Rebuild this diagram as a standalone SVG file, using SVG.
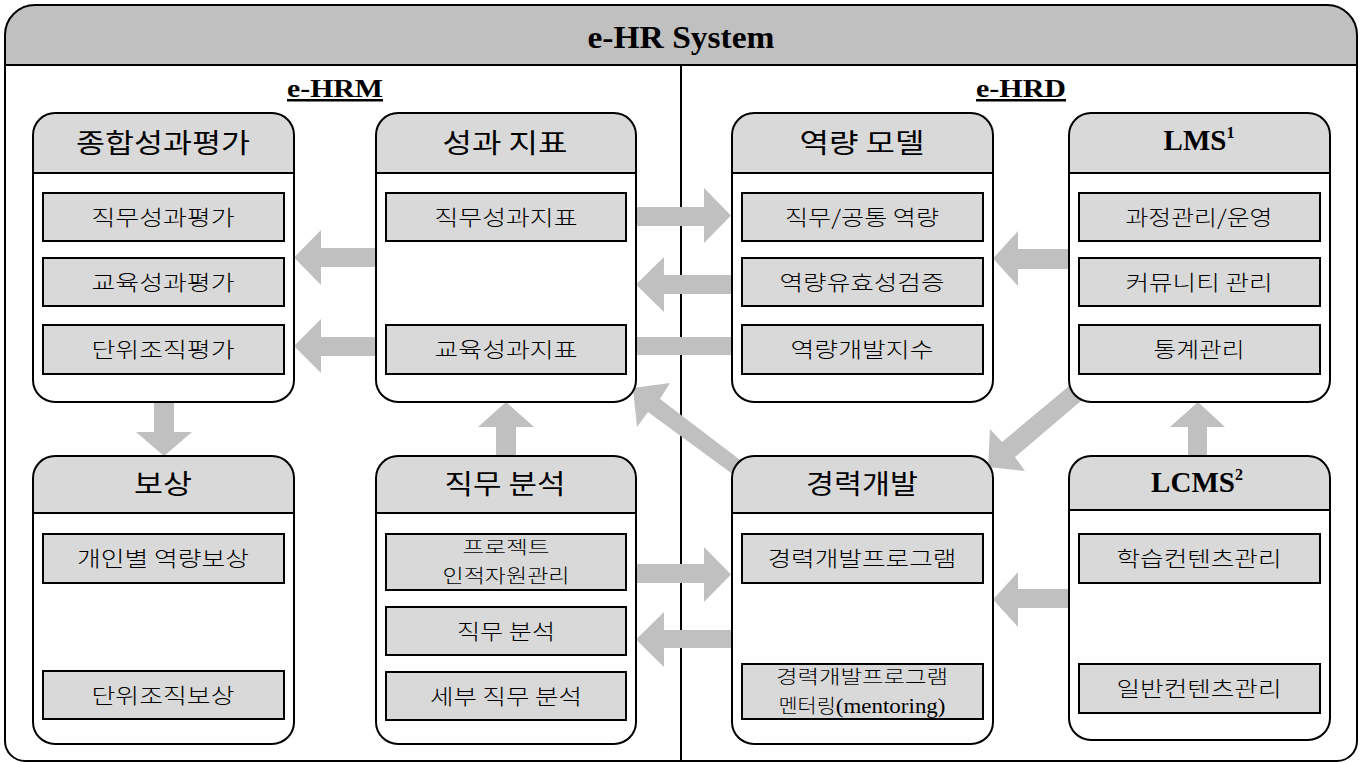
<svg xmlns="http://www.w3.org/2000/svg" width="1365" height="762" viewBox="0 0 1365 762">
<style>
.hb{fill:#c0c0c0}
.nh{fill:#d9d9d9}
.ol{fill:none;stroke:#000;stroke-width:2}
.bg{fill:#fff}
.item{fill:#d9d9d9;stroke:#000;stroke-width:2}
.arr{fill:#c0c0c0}
.ln{stroke:#000;stroke-width:2}
.k{font-family:"Noto Sans CJK KR",sans-serif;text-anchor:middle;fill:#000;font-weight:300}
.ki{font-size:21px}
.kh{font-size:27px;font-weight:400}
.e{font-family:"Liberation Serif","Times New Roman",serif;font-weight:bold;text-anchor:middle;fill:#000}
</style>
<g id="frame">
<path class="bg" d="M5,35 A30,30 0 0 1 35,5 H1327 A30,30 0 0 1 1357,35 V741 A20,20 0 0 1 1337,761 H25 A20,20 0 0 1 5,741 Z"/>
<path class="hb" d="M5,65 V35 A30,30 0 0 1 35,5 H1327 A30,30 0 0 1 1357,35 V65 Z"/>
<line class="ln" x1="5" y1="65" x2="1357" y2="65"/>
<line class="ln" x1="681" y1="65" x2="681" y2="761"/>
<path class="ol" d="M5,35 A30,30 0 0 1 35,5 H1327 A30,30 0 0 1 1357,35 V741 A20,20 0 0 1 1337,761 H25 A20,20 0 0 1 5,741 Z"/>
<text class="e" x="681" y="48" font-size="31" textLength="187" lengthAdjust="spacingAndGlyphs">e-HR System</text>
<text class="e" x="335" y="97" font-size="25" textLength="96" lengthAdjust="spacingAndGlyphs" text-decoration="underline">e-HRM</text>
<text class="e" x="1021" y="97" font-size="25" textLength="90" lengthAdjust="spacingAndGlyphs" text-decoration="underline">e-HRD</text>
</g>
<g id="connectors">
<polygon class="arr" points="376,248 321,248 321,230 294,257.5 321,285 321,267 376,267"/>
<polygon class="arr" points="376,337 321,337 321,319 294,346 321,373 321,356 376,356"/>
<polygon class="arr" points="636,207 704,207 704,188 731,215.5 704,243 704,226 636,226"/>
<polygon class="arr" points="731,275 664,275 664,257 636,284.5 664,312 664,294 731,294"/>
<rect class="arr" x="636" y="337" width="96" height="18"/>
<polygon class="arr" points="1069,249 1018,249 1018,231 993,258.5 1018,286 1018,269 1069,269"/>
<polygon class="arr" points="154,402 174,402 174,432 192,432 164,456 136,432 154,432"/>
<polygon class="arr" points="496,456 516,456 516,427 534,427 506,402 478,427 496,427"/>
<polygon class="arr" points="633,388 670,383 660,399 752,469 742,481 648,412 637,427"/>
<polygon class="arr" points="1075,381 1088,395 1015,457 1025,471 988,467 990,429 1002,442"/>
<polygon class="arr" points="1188,456 1207,456 1207,427 1225,427 1198,402 1170,427 1188,427"/>
<polygon class="arr" points="636,564 704,564 704,547 731,574.5 704,602 704,583 636,583"/>
<polygon class="arr" points="731,630 664,630 664,612 636,639.5 664,667 664,648 731,648"/>
<polygon class="arr" points="1069,589 1018,589 1018,572 993,599.5 1018,627 1018,608 1069,608"/>
</g>
<g id="n-jonghap">
<rect class="bg" x="33" y="113" width="261" height="289" rx="22"/>
<path class="nh" d="M33,173 V135 A22,22 0 0 1 55,113 H272 A22,22 0 0 1 294,135 V173 Z"/>
<line class="ln" x1="33" y1="173" x2="294" y2="173"/>
<rect class="ol" x="33" y="113" width="261" height="289" rx="22"/>
<text class="k kh" x="163" y="153" textLength="174" lengthAdjust="spacingAndGlyphs">종합성과평가</text>
<rect class="item" x="43" y="193" width="241" height="48"/>
<text class="k ki" x="163" y="225" textLength="143" lengthAdjust="spacingAndGlyphs">직무성과평가</text>
<rect class="item" x="43" y="258" width="241" height="48"/>
<text class="k ki" x="163" y="290" textLength="143" lengthAdjust="spacingAndGlyphs">교육성과평가</text>
<rect class="item" x="43" y="325" width="241" height="49"/>
<text class="k ki" x="163" y="357" textLength="143" lengthAdjust="spacingAndGlyphs">단위조직평가</text>
</g>
<g id="n-seonggwa">
<rect class="bg" x="376" y="113" width="260" height="289" rx="22"/>
<path class="nh" d="M376,173 V135 A22,22 0 0 1 398,113 H614 A22,22 0 0 1 636,135 V173 Z"/>
<line class="ln" x1="376" y1="173" x2="636" y2="173"/>
<rect class="ol" x="376" y="113" width="260" height="289" rx="22"/>
<text class="k kh" x="505" y="153" textLength="125" lengthAdjust="spacingAndGlyphs">성과 지표</text>
<rect class="item" x="386" y="193" width="240" height="48"/>
<text class="k ki" x="506" y="225" textLength="143" lengthAdjust="spacingAndGlyphs">직무성과지표</text>
<rect class="item" x="386" y="325" width="240" height="49"/>
<text class="k ki" x="506" y="357" textLength="143" lengthAdjust="spacingAndGlyphs">교육성과지표</text>
</g>
<g id="n-yeokryang">
<rect class="bg" x="732" y="113" width="261" height="289" rx="22"/>
<path class="nh" d="M732,173 V135 A22,22 0 0 1 754,113 H971 A22,22 0 0 1 993,135 V173 Z"/>
<line class="ln" x1="732" y1="173" x2="993" y2="173"/>
<rect class="ol" x="732" y="113" width="261" height="289" rx="22"/>
<text class="k kh" x="862" y="153" textLength="125" lengthAdjust="spacingAndGlyphs">역량 모델</text>
<rect class="item" x="742" y="193" width="241" height="48"/>
<text class="k ki" x="862" y="225" textLength="154" lengthAdjust="spacingAndGlyphs">직무/공통 역량</text>
<rect class="item" x="742" y="258" width="241" height="48"/>
<text class="k ki" x="862" y="290" textLength="165" lengthAdjust="spacingAndGlyphs">역량유효성검증</text>
<rect class="item" x="742" y="325" width="241" height="49"/>
<text class="k ki" x="862" y="357" textLength="143" lengthAdjust="spacingAndGlyphs">역량개발지수</text>
</g>
<g id="n-lms">
<rect class="bg" x="1069" y="113" width="261" height="289" rx="22"/>
<path class="nh" d="M1069,173 V135 A22,22 0 0 1 1091,113 H1308 A22,22 0 0 1 1330,135 V173 Z"/>
<line class="ln" x1="1069" y1="173" x2="1330" y2="173"/>
<rect class="ol" x="1069" y="113" width="261" height="289" rx="22"/>
<text class="e" x="1199" y="150" font-size="29">LMS<tspan font-size="16" dy="-12">1</tspan></text>
<rect class="item" x="1079" y="193" width="241" height="48"/>
<text class="k ki" x="1199" y="225" textLength="147" lengthAdjust="spacingAndGlyphs">과정관리/운영</text>
<rect class="item" x="1079" y="258" width="241" height="48"/>
<text class="k ki" x="1199" y="290" textLength="147" lengthAdjust="spacingAndGlyphs">커뮤니티 관리</text>
<rect class="item" x="1079" y="325" width="241" height="49"/>
<text class="k ki" x="1199" y="357" textLength="91" lengthAdjust="spacingAndGlyphs">통계관리</text>
</g>
<g id="n-bosang">
<rect class="bg" x="33" y="456" width="261" height="288" rx="22"/>
<path class="nh" d="M33,513 V478 A22,22 0 0 1 55,456 H272 A22,22 0 0 1 294,478 V513 Z"/>
<line class="ln" x1="33" y1="513" x2="294" y2="513"/>
<rect class="ol" x="33" y="456" width="261" height="288" rx="22"/>
<text class="k kh" x="163" y="494" textLength="58" lengthAdjust="spacingAndGlyphs" font-weight="500">보상</text>
<rect class="item" x="43" y="534" width="241" height="49"/>
<text class="k ki" x="163" y="566" textLength="172" lengthAdjust="spacingAndGlyphs">개인별 역량보상</text>
<rect class="item" x="43" y="671" width="241" height="48"/>
<text class="k ki" x="163" y="703" textLength="143" lengthAdjust="spacingAndGlyphs">단위조직보상</text>
</g>
<g id="n-jikmu">
<rect class="bg" x="376" y="456" width="260" height="288" rx="22"/>
<path class="nh" d="M376,513 V478 A22,22 0 0 1 398,456 H614 A22,22 0 0 1 636,478 V513 Z"/>
<line class="ln" x1="376" y1="513" x2="636" y2="513"/>
<rect class="ol" x="376" y="456" width="260" height="288" rx="22"/>
<text class="k kh" x="505" y="494" textLength="121" lengthAdjust="spacingAndGlyphs" font-weight="500">직무 분석</text>
<rect class="item" x="386" y="534" width="240" height="56"/>
<text class="k" x="506" y="554" font-size="18" textLength="87" lengthAdjust="spacingAndGlyphs">프로젝트</text>
<text class="k" x="506" y="583" font-size="19" textLength="127" lengthAdjust="spacingAndGlyphs">인적자원관리</text>
<rect class="item" x="386" y="607" width="240" height="48"/>
<text class="k ki" x="506" y="639" textLength="98" lengthAdjust="spacingAndGlyphs">직무 분석</text>
<rect class="item" x="386" y="672" width="240" height="48"/>
<text class="k ki" x="506" y="704" textLength="152" lengthAdjust="spacingAndGlyphs">세부 직무 분석</text>
</g>
<g id="n-gyeongryeok">
<rect class="bg" x="732" y="456" width="261" height="288" rx="22"/>
<path class="nh" d="M732,513 V478 A22,22 0 0 1 754,456 H971 A22,22 0 0 1 993,478 V513 Z"/>
<line class="ln" x1="732" y1="513" x2="993" y2="513"/>
<rect class="ol" x="732" y="456" width="261" height="288" rx="22"/>
<text class="k kh" x="862" y="494" textLength="112" lengthAdjust="spacingAndGlyphs" font-weight="500">경력개발</text>
<rect class="item" x="742" y="534" width="241" height="49"/>
<text class="k ki" x="862" y="566" textLength="189" lengthAdjust="spacingAndGlyphs">경력개발프로그램</text>
<rect class="item" x="742" y="664" width="241" height="55"/>
<text class="k" x="862" y="684" font-size="19" textLength="172" lengthAdjust="spacingAndGlyphs">경력개발프로그램</text>
<text class="k" x="862" y="713" font-size="19" textLength="167" lengthAdjust="spacingAndGlyphs">멘터링<tspan font-family="Liberation Serif,serif" font-size="21" font-weight="400">(mentoring)</tspan></text>
</g>
<g id="n-lcms">
<rect class="bg" x="1069" y="456" width="261" height="284" rx="22"/>
<path class="nh" d="M1069,510 V478 A22,22 0 0 1 1091,456 H1308 A22,22 0 0 1 1330,478 V510 Z"/>
<line class="ln" x1="1069" y1="510" x2="1330" y2="510"/>
<rect class="ol" x="1069" y="456" width="261" height="284" rx="22"/>
<text class="e" x="1197" y="492" font-size="29">LCMS<tspan font-size="16" dy="-12">2</tspan></text>
<rect class="item" x="1079" y="534" width="241" height="49"/>
<text class="k ki" x="1199" y="566" textLength="165" lengthAdjust="spacingAndGlyphs">학습컨텐츠관리</text>
<rect class="item" x="1079" y="664" width="241" height="49"/>
<text class="k ki" x="1199" y="696" textLength="165" lengthAdjust="spacingAndGlyphs">일반컨텐츠관리</text>
</g>
</svg>
